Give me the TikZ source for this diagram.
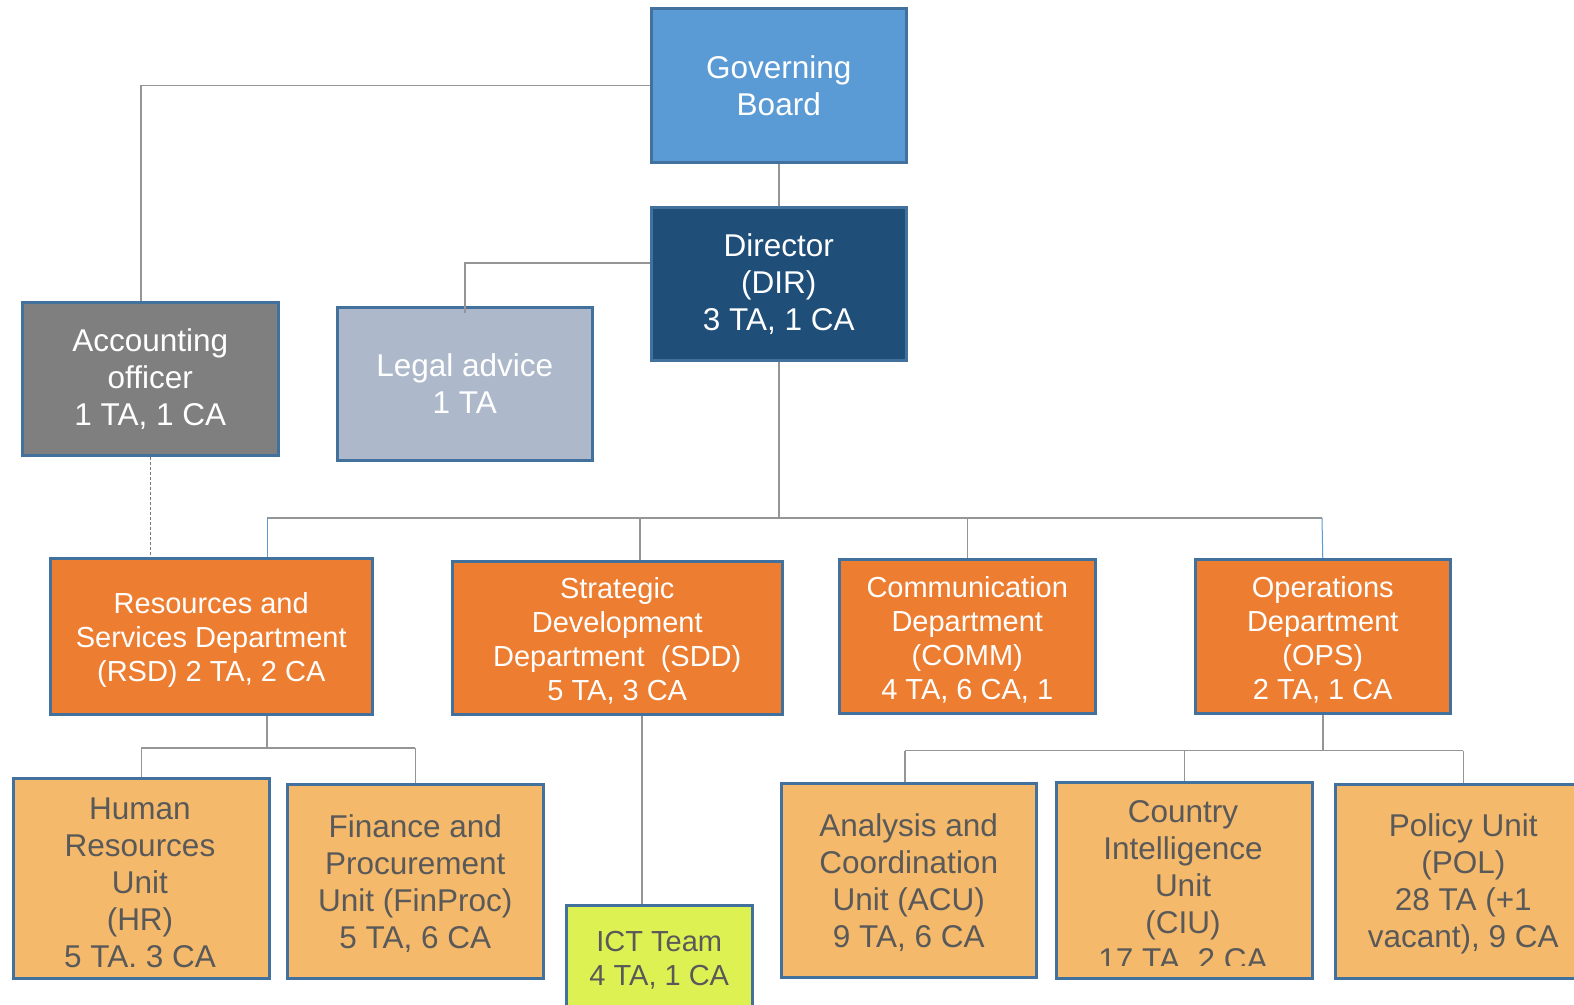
\documentclass[tikz,border=0pt]{standalone}
\usepackage{fontspec}
\setmainfont{Liberation Sans}
\definecolor{gbc}{HTML}{5B9BD5}
\definecolor{dirc}{HTML}{1F4E79}
\definecolor{accc}{HTML}{7F7F7F}
\definecolor{legc}{HTML}{ADB9CA}
\definecolor{deptc}{HTML}{ED7D31}
\definecolor{unitc}{HTML}{F4B96A}
\definecolor{ictc}{HTML}{DDF252}
\definecolor{bordc}{HTML}{41719C}
\definecolor{linec}{HTML}{959595}
\definecolor{lineb}{HTML}{5B9BD5}
\definecolor{unittxt}{HTML}{595959}
\newcommand{\toprule}[1]{\rule{0pt}{#1}}
\begin{document}
\begin{tikzpicture}[x=1pt,y=-1pt,
  box/.style={draw=bordc, line width=2.5pt, inner sep=0pt, anchor=north west, align=center, text=white},
  bigf/.style={font=\fontsize{31.5}{37}\selectfont},
  midf/.style={font=\fontsize{29}{34}\selectfont},
  conn/.style={draw=linec, line width=1.5pt},
  connb/.style={draw=lineb, line width=1pt},
  dashconn/.style={draw=linec!80!black, line width=1pt, dash pattern=on 3pt off 2pt},
  unit/.style={box, fill=unitc, text=unittxt, bigf},
  dept/.style={box, fill=deptc, midf, minimum height=154pt},
  utext/.style={bigf, text=unittxt, align=center, inner sep=0pt, anchor=north}]
\clip (0,0) rectangle (1574,1004);
\fill[white] (0,0) rectangle (1574,1004);

% top level
\node[box, bigf, fill=gbc, minimum width=255pt, minimum height=154pt] (gb) at (650,7) {Governing\\Board};
\node[box, bigf, fill=dirc, minimum width=255pt, minimum height=153pt] (dir) at (650,206) {Director\\(DIR)\\3 TA, 1 CA};
\node[box, bigf, fill=accc, minimum width=256pt, minimum height=153pt] (acc) at (21,301) {Accounting\\officer\\1 TA, 1 CA};
\node[box, bigf, fill=legc, minimum width=255pt, minimum height=153pt] (leg) at (336,306) {Legal advice\\1 TA};

% departments
\node[dept, minimum width=322pt, minimum height=156pt] (rsd) at (49,557) {\toprule{28pt}Resources and\\Services Department\\(RSD) 2 TA, 2 CA};
\node[dept, minimum width=330pt, minimum height=153pt] (sdd) at (451,560) {\toprule{28pt}Strategic\\Development\\Department\ \ (SDD)\\5 TA, 3 CA};
\node[dept, minimum width=256pt] (comm) at (838,558) {\toprule{28pt}Communication\\Department\\(COMM)\\4 TA, 6 CA, 1};
\node[dept, minimum width=255pt] (ops) at (1194,558) {\toprule{28pt}Operations\\Department\\(OPS)\\2 TA, 1 CA};

% units
\node[unit, minimum width=256pt, minimum height=200pt] (hr) at (12,777) {};
\node[unit, minimum width=256pt, minimum height=194pt] (fin) at (286,783) {\toprule{27pt}Finance and\\Procurement\\Unit (FinProc)\\5 TA, 6 CA};
\node[box, fill=ictc, text=unittxt, midf, minimum width=186pt, minimum height=110pt] (ict) at (565,904) {ICT Team\\4 TA, 1 CA};
\node[unit, minimum width=255pt, minimum height=194pt] (acu) at (780,782) {\toprule{27pt}Analysis and\\Coordination\\Unit (ACU)\\9 TA, 6 CA};
\node[unit, minimum width=256pt, minimum height=196pt] (ciu) at (1055,781) {};
\node[unit, minimum width=256pt, minimum height=194pt] (pol) at (1334,783) {\toprule{27.5pt}Policy Unit\\(POL)\\28 TA (+1\\vacant), 9 CA};

\begin{scope}
  \clip (14,779) rectangle (266,967);
  \node[utext] (hrtext) at (140,797.5) {Human\\Resources\\Unit\\(HR)\\5 TA. 3 CA};
\end{scope}
\begin{scope}
  \clip (1057,783) rectangle (1309,965);
  \node[utext] (ciutext) at (1183,800.5) {Country\\Intelligence\\Unit\\(CIU)\\17 TA, 2 CA};
\end{scope}

% connectors
\coordinate (busL) at (267,518);
\coordinate (busR) at (1322,518);
\coordinate (rsdbus) at (267,748);
\coordinate (opsbus) at (1322,750.7);

\draw[conn] (gb.west) -| ([xshift=-9.5pt]acc.north);
\draw[conn] (gb.south) -- (dir.north);
\draw[conn] (dir.west |- 0,263) -| ([yshift=-7pt]leg.north);
\draw[conn] (dir.south) -- (dir.south |- busL);
\draw[conn] (busL) -- (busR);
\draw[connb] (busL) -- (busL |- rsd.north);
\draw[conn] (busL -| 640,0) -- (sdd.north -| 640,0);
\draw[conn] (comm.north |- busL) -- (comm.north);
\draw[connb] (busR) -- (ops.north);
\draw[dashconn] (acc.south) -- (acc.south |- rsd.north);

\draw[conn] (rsd.south -| rsdbus) -- (rsdbus);
\draw[conn] (hr.north |- rsdbus) -- (fin.north |- rsdbus);
\draw[conn] (hr.north |- rsdbus) -- (hr.north);
\draw[conn] (fin.north |- rsdbus) -- (fin.north);

\draw[conn] (sdd.south -| 642,0) -- (ict.north -| 642,0);

\draw[conn] (ops.south) -- (ops.south |- opsbus);
\draw[conn] (905,750.7) -- (pol.north |- opsbus);
\draw[conn] (905,750.7) -- (acu.north -| 905,0);
\draw[conn] (ciu.north |- opsbus) -- (ciu.north);
\draw[conn] (pol.north |- opsbus) -- (pol.north);
\end{tikzpicture}
\end{document}
